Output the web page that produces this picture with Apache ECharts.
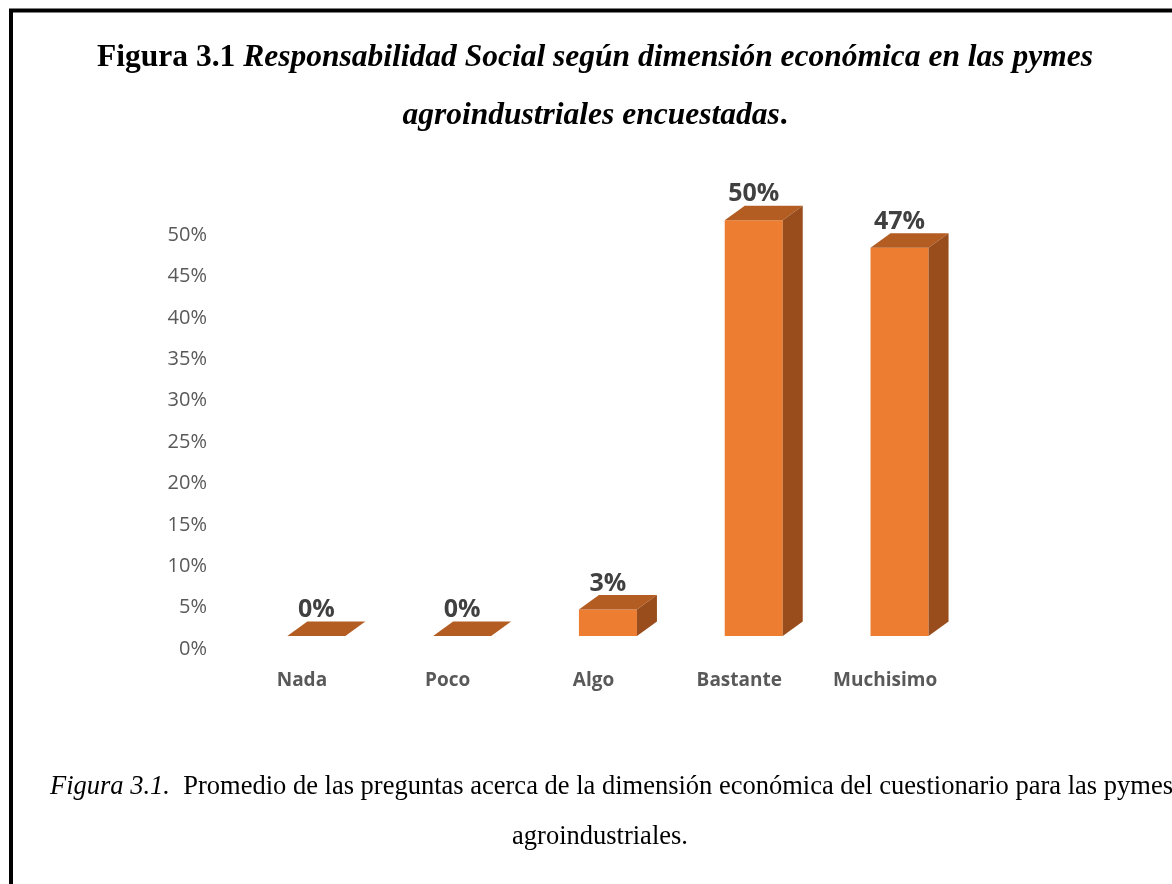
<!DOCTYPE html>
<html lang="es">
<head>
  <meta charset="UTF-8">
  <title>Figura 3.1</title>
  <style type="text/css">
    html, body { margin: 0; padding: 0; background: #fff; }
    #chart { width: 1172px; height: 884px; }
  </style>
</head>
<body>
  <div id="chart"></div>
  <script src="https://cdn.jsdelivr.net/npm/echarts@6/dist/echarts.min.js"></script>
  <script>
    const categories = ['Nada', 'Poco', 'Algo', 'Bastante', 'Muchisimo']
    const values = [0, 0, 3.2, 50.2, 46.9]
    const valueLabels = ['0%', '0%', '3%', '50%', '47%']
    const yTicks = [0, 5, 10, 15, 20, 25, 30, 35, 40, 45, 50]

    const FRONT = '#ED7D31'
    const TOP = '#B45D22'
    const SIDE = '#994D1C'

    // fake 3D box: front face, top face, right side
    function renderBox (params, api) {
      const idx = api.value(0)
      const v = api.value(1)
      const band = api.size([1, 0])[0]
      const base = api.coord([idx, 0])
      const top = api.coord([idx, v])
      const w = band * 0.398
      const x0 = base[0] - band * 0.1
      const lift = 13
      const dx = 20
      const dy = -14.5
      const yB = base[1] - lift
      const yT = top[1] - lift
      return {
        type: 'group',
        children: [
          {
            type: 'rect',
            shape: { x: x0, y: yT, width: w, height: yB - yT },
            style: { fill: FRONT }
          },
          {
            type: 'polygon',
            shape: { points: [[x0, yT], [x0 + w, yT], [x0 + w + dx, yT + dy], [x0 + dx, yT + dy]] },
            style: { fill: TOP }
          },
          {
            type: 'polygon',
            shape: { points: [[x0 + w, yT], [x0 + w + dx, yT + dy], [x0 + w + dx, yB + dy], [x0 + w, yB]] },
            style: { fill: SIDE }
          },
          {
            type: 'text',
            x: x0 + w / 2,
            y: yT + dy + 1,
            style: {
              text: valueLabels[params.dataIndex],
              fill: '#404040',
              font: 'bold 25px "Open Sans"',
              align: 'center',
              verticalAlign: 'bottom'
            }
          }
        ]
      }
    }

    const chart = echarts.init(document.getElementById('chart'))

    const option = {
      backgroundColor: '#ffffff',
      animation: false,
      grid: { left: 229, right: 214, top: 235, bottom: 235 },
      xAxis: {
        type: 'category',
        data: categories,
        axisLine: { show: false },
        axisTick: { show: false },
        axisLabel: {
          margin: 22,
          color: '#595959',
          fontFamily: 'Open Sans',
          fontWeight: 'bold',
          fontSize: 19
        }
      },
      yAxis: {
        type: 'value',
        min: 0,
        max: 50,
        interval: 5,
        splitLine: { show: false },
        axisLine: { show: false },
        axisTick: { show: false },
        axisLabel: {
          margin: 22,
          color: '#595959',
          fontFamily: 'Open Sans',
          fontSize: 20,
          formatter: v => yTicks.includes(v) ? v + '%' : ''
        }
      },
      series: [{
        type: 'custom',
        renderItem: renderBox,
        clip: false,
        data: values.map((v, i) => [i, v])
      }],
      graphic: [
        {
          type: 'rect',
          shape: { x: 11, y: 10.5, width: 1300, height: 1000 },
          style: { fill: 'none', stroke: '#000', lineWidth: 4 }
        },
        {
          type: 'text',
          x: 595,
          y: 58,
          style: {
            rich: {
              a: { font: 'bold 31.5px "Liberation Serif"', fill: '#000' },
              b: { font: 'italic bold 31.5px "Liberation Serif"', fill: '#000' }
            },
            text: '{a|Figura 3.1 }{b|Responsabilidad Social según dimensión económica en las pymes}',
            align: 'center',
            verticalAlign: 'middle'
          }
        },
        {
          type: 'text',
          x: 595,
          y: 116,
          style: {
            rich: {
              a: { font: 'bold 31.5px "Liberation Serif"', fill: '#000' },
              b: { font: 'italic bold 31.5px "Liberation Serif"', fill: '#000' }
            },
            text: '{b|agroindustriales encuestadas}{a|.}',
            align: 'center',
            verticalAlign: 'middle'
          }
        },
        {
          type: 'text',
          x: 50,
          y: 787,
          style: {
            rich: {
              a: { font: 'italic 26.5px "Liberation Serif"', fill: '#000' },
              b: { font: '26.5px "Liberation Serif"', fill: '#000' }
            },
            text: '{a|Figura 3.1.}{b|  Promedio de las preguntas acerca de la dimensión económica del cuestionario para las pymes}',
            align: 'left',
            verticalAlign: 'middle'
          }
        },
        {
          type: 'text',
          x: 600,
          y: 837,
          style: {
            text: 'agroindustriales.',
            font: '26.5px "Liberation Serif"',
            fill: '#000',
            align: 'center',
            verticalAlign: 'middle'
          }
        }
      ]
    }

    chart.setOption(option)
  </script>
</body>
</html>
